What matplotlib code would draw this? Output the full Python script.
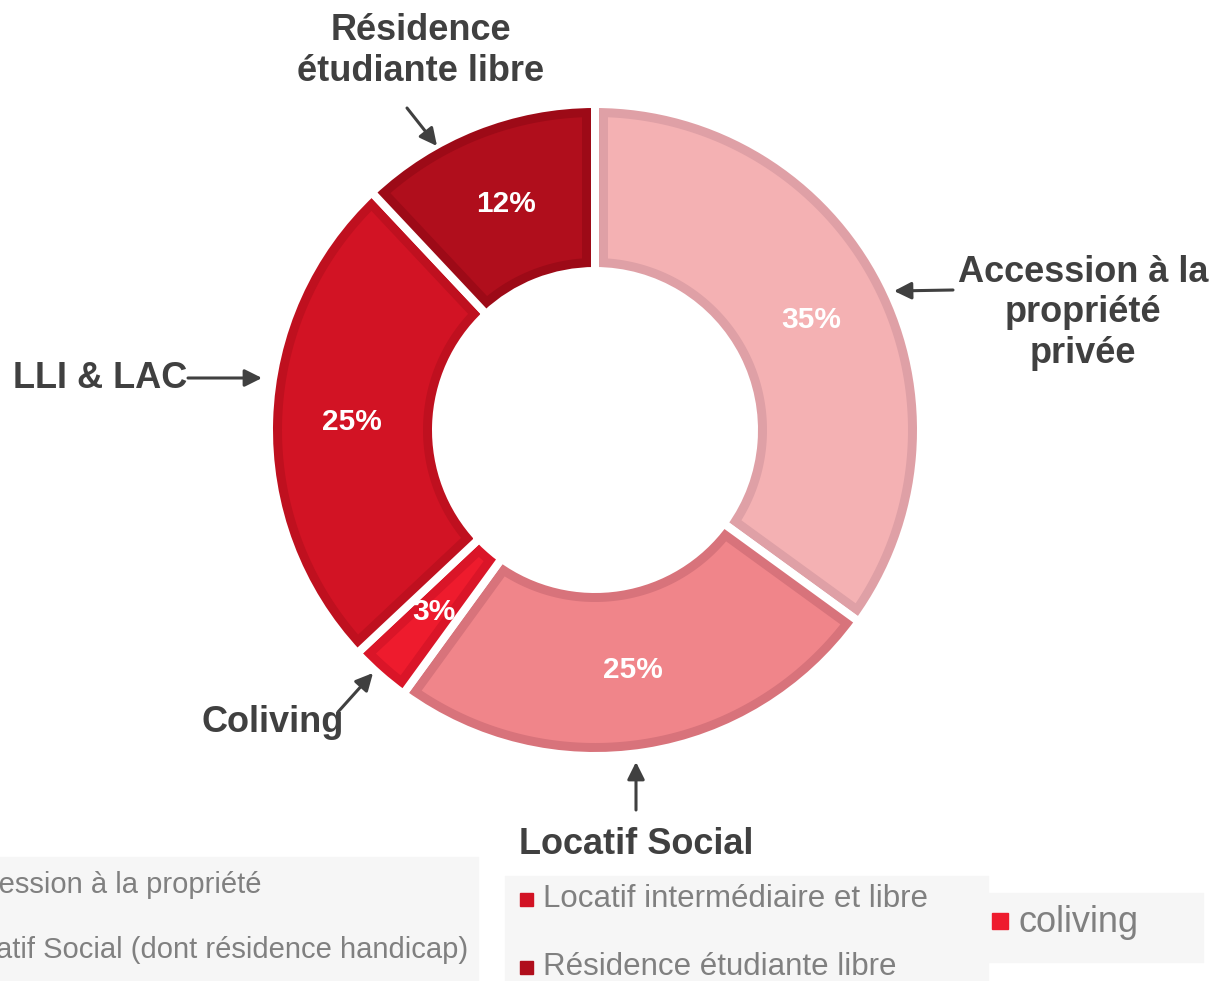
import numpy as np
import matplotlib.pyplot as plt
from matplotlib.patches import Rectangle, Polygon

# data
categories = ["Accession à la propriété privée", "Locatif Social", "Coliving",
              "LLI & LAC", "Résidence étudiante libre"]
shares = [35, 25, 3, 25, 12]
fills = ["#F4B1B3", "#F0858A", "#EE1B2D", "#D21324", "#B00E1C"]
borders = ["#DFA0A6", "#D8737B", "#DA1528", "#BF101F", "#9D0A17"]

legend_left = ["Accession à la propriété", "Locatif Social (dont résidence handicap)"]
legend_mid = ["Locatif intermédiaire et libre", "Résidence étudiante libre"]
legend_right = ["coliving"]

W, H = 1220, 981
def Y(y):
    return H - y

plt.rcParams['font.family'] = ['Liberation Sans', 'DejaVu Sans']
fig = plt.figure(figsize=(W / 100, H / 100), dpi=100)
ax = fig.add_axes([0, 0, 1, 1])

cx, cy = 595, Y(430)
R = 326
gap = 8      # white gap between slices, px
bord = 9     # darker rim inside each slice, px

# slices in rim colour, white edges make the gaps
wedges, _, pcts = ax.pie(shares, radius=R, center=(cx, cy), startangle=90,
                         counterclock=False, colors=borders,
                         wedgeprops=dict(width=167, edgecolor='white',
                                         linewidth=gap * 0.72),
                         autopct='%d%%', pctdistance=0.745,
                         textprops=dict(color='white', fontsize=21.5,
                                        fontweight='bold'))

# inner fill of each slice, inset from the slice outline
d = gap / 2 + bord
for w, fc in zip(wedges, fills):
    x0, y0 = w.center
    ro = w.r - d
    ri = w.r - w.width + d
    t1, t2 = np.radians(w.theta1), np.radians(w.theta2)
    a1o, a2o = t1 + np.arcsin(d / ro), t2 - np.arcsin(d / ro)
    a1i, a2i = t1 + np.arcsin(d / ri), t2 - np.arcsin(d / ri)
    if a2i <= a1i:
        a1i = a2i = (t1 + t2) / 2
    to = np.linspace(a1o, a2o, 120)
    ti = np.linspace(a2i, a1i, 120)
    pts = np.vstack([np.column_stack([x0 + ro * np.cos(to), y0 + ro * np.sin(to)]),
                     np.column_stack([x0 + ri * np.cos(ti), y0 + ri * np.sin(ti)])])
    ax.add_patch(Polygon(pts, closed=True, facecolor=fc, edgecolor='none', zorder=1.5))

ax.set_xlim(0, W)
ax.set_ylim(0, H)
ax.set_aspect('equal')
ax.axis('off')

dark = '#404040'
lab = dict(color=dark, fontsize=26, fontweight='bold', ha='center',
           va='center', linespacing=1.2)
ax.text(421, Y(51), "Résidence\nétudiante libre", **lab)
ax.text(1083, Y(313), "Accession à la\npropriété\nprivée", **lab)
ax.text(13, Y(378), "LLI & LAC", **{**lab, 'ha': 'left'})
ax.text(273, Y(722), "Coliving", **lab)
ax.text(636, Y(845), "Locatif Social", **lab)

arrows = [((407, 108), (437, 146)),
          ((953, 290), (894, 291)),
          ((188, 378), (262, 378)),
          ((338, 712), (373, 673)),
          ((636, 810), (636, 762))]
for (x0, y0), (x1, y1) in arrows:
    ax.annotate('', xy=(x1, Y(y1)), xytext=(x0, Y(y0)),
                arrowprops=dict(arrowstyle='-|>', color=dark, lw=2.2,
                                mutation_scale=26, shrinkA=0, shrinkB=0))

# legend fragments
grey = '#808080'
bg = '#F6F6F6'
ax.add_patch(Rectangle((0, Y(980)), 478, 123, color=bg, zorder=0))
ax.add_patch(Rectangle((505, Y(981)), 483, 105, color=bg, zorder=0))
ax.add_patch(Rectangle((988, Y(962)), 215, 69, color=bg, zorder=0))

ax.text(262, Y(885), legend_left[0], color=grey, fontsize=21, ha='right', va='center')
ax.text(468, Y(950), legend_left[1], color=grey, fontsize=21, ha='right', va='center')

mid_cols = [fills[3], fills[4]]
for txt, col, yy in zip(legend_mid, mid_cols, [899, 967]):
    ax.add_patch(Rectangle((520, Y(yy + 7)), 13, 13, color=col))
    ax.text(543, Y(yy), txt, color=grey, fontsize=22.5, ha='left', va='center')

ax.add_patch(Rectangle((992, Y(929)), 16, 16, color=fills[2]))
ax.text(1018, Y(922), legend_right[0], color=grey, fontsize=26, ha='left', va='center')

fig.savefig('out.png', dpi=100, facecolor='white')
